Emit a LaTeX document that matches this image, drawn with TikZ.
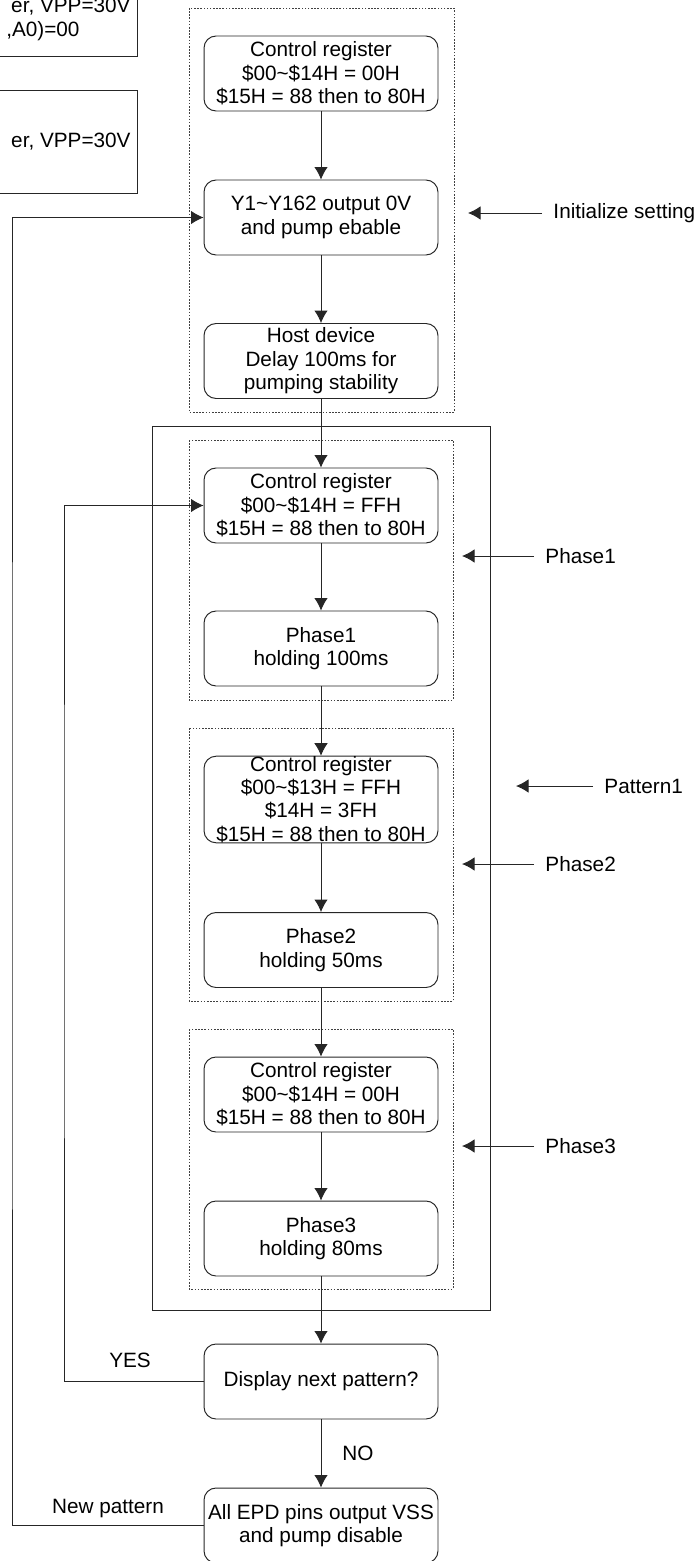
\documentclass[tikz,border=0pt]{standalone}
\usepackage{fontspec}
\setmainfont{Liberation Sans}
\usetikzlibrary{arrows.meta}
\newcommand\schrift{\fontsize{11.8}{13.3}\selectfont}
\begin{document}
\begin{tikzpicture}[x=0.02cm,y=-0.02cm,>={Latex[length=0.25cm,width=0.27cm]},line width=0.55pt,
  kasten/.style={draw=black!85,rounded corners=0.24cm,minimum width=4.68cm,minimum height=1.5cm,inner sep=0pt,align=center,font=\schrift},
  rahmen/.style={draw=black!75,line width=0.4pt,dash pattern=on 0.9pt off 0.9pt},
  beschriftung/.style={anchor=west,inner xsep=0.22cm,font=\schrift}]
\def\mx{321}
\def\pfeil#1#2{
\draw[->,black!85] #1 -- #2;
}
\useasboundingbox (0,0) rectangle (695,1561);
\clip (0,0) rectangle (695,1561);

% Rahmen
\draw[black!85] (-10,-10) rectangle (137,56);
\draw[black!85] (-10,90) rectangle (137,193);
\draw[rahmen] (189,8) rectangle (454,412);
\draw[black!85] (152,426) rectangle (490,1310);
\draw[rahmen] (189,440) rectangle (453,700);
\draw[rahmen] (189,728) rectangle (453,1001);
\draw[rahmen] (189,1029) rectangle (453,1289);

\node[anchor=base east,font=\schrift,inner sep=0pt] (vppa) at (131,13) {er, VPP=30V};
\node[anchor=base east,font=\schrift,inner sep=0pt] (adr) at (80,37) {,A0)=00};
\node[anchor=base east,font=\schrift,inner sep=0pt] (vppb) at (131,148) {er, VPP=30V};

% Kaesten
\node[kasten] (reg1) at (\mx,73.5) {Control register\\\$00\textasciitilde\$14H = 00H\\\$15H = 88 then to 80H};
\node[kasten] (ausgabe) at (\mx,217.5) {Y1\textasciitilde Y162 output 0V\\and pump ebable};
\node[kasten] (host) at (\mx,361) {Host device\\Delay 100ms for\\pumping stability};
\node[kasten] (reg2) at (\mx,505.5) {Control register\\\$00\textasciitilde\$14H = FFH\\\$15H = 88 then to 80H};
\node[kasten] (halt1) at (\mx,648.5) {Phase1\\holding 100ms};
\node[kasten] (reg3) at (\mx,799.5) {Control register\\\$00\textasciitilde\$13H = FFH\\\$14H = 3FH\\\$15H = 88 then to 80H};
\node[kasten] (halt2) at (\mx,950) {Phase2\\holding 50ms};
\node[kasten] (reg4) at (\mx,1094.5) {Control register\\\$00\textasciitilde\$14H = 00H\\\$15H = 88 then to 80H};
\node[kasten] (halt3) at (\mx,1238.5) {Phase3\\holding 80ms};
\node[kasten] (frage) at (\mx,1381.5) {Display next pattern?};
\node[kasten] (ende) at (\mx,1525.5) {All EPD pins output VSS\\and pump disable};

\pfeil{(reg1)}{(ausgabe)}
\pfeil{(ausgabe)}{(host)}
\pfeil{(host)}{(reg2)}
\pfeil{(reg2)}{(halt1)}
\pfeil{(halt1)}{(reg3)}
\pfeil{(reg3)}{(halt2)}
\pfeil{(halt2)}{(reg4)}
\pfeil{(reg4)}{(halt3)}
\pfeil{(halt3)}{(frage)}
\pfeil{(frage)}{(ende)}

% Rueckfuehrungen
\coordinate (ja) at (64,900);
\coordinate (neu) at (12,900);
\draw[->,black!85] (frage.west) -| (ja) |- (reg2.west);
\draw[->,black!85] (ende.west) -| (neu) |- (ausgabe.west);
\node[font=\schrift] (yes) at (130,1360) {YES};
\node[font=\schrift] (no) at (358,1453) {NO};
\node[font=\schrift] (neumuster) at (108,1509) {New pattern};

% Beschriftungen rechts
\coordinate (initspitze) at (468,213);
\coordinate (phase1spitze) at (462,556);
\coordinate (musterspitze) at (516,786);
\coordinate (phase2spitze) at (462,864);
\coordinate (phase3spitze) at (462,1146);
\node[beschriftung] (initlabel) at (542,213) {Initialize setting};
\node[beschriftung] (phase1label) at (534,556) {Phase1};
\node[beschriftung] (musterlabel) at (593,786) {Pattern1};
\node[beschriftung] (phase2label) at (534,864) {Phase2};
\node[beschriftung] (phase3label) at (534,1146) {Phase3};
\pfeil{(initlabel)}{(initspitze)}
\pfeil{(phase1label)}{(phase1spitze)}
\pfeil{(musterlabel)}{(musterspitze)}
\pfeil{(phase2label)}{(phase2spitze)}
\pfeil{(phase3label)}{(phase3spitze)}
\end{tikzpicture}
\end{document}
